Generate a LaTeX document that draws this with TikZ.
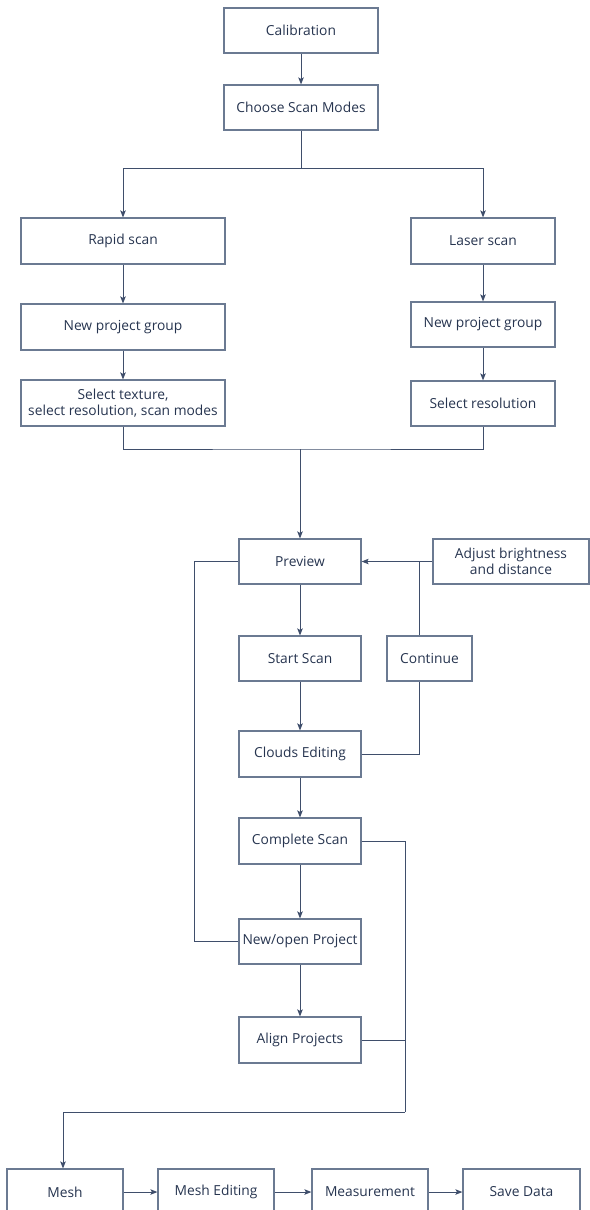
\documentclass[tikz,border=0pt]{standalone}
\usepackage{fontspec}
\setmainfont{Open Sans}
\usetikzlibrary{arrows.meta,calc}
\definecolor{boxc}{HTML}{6B7A92}
\definecolor{txtc}{HTML}{26344F}
\definecolor{linec}{HTML}{3F4E6B}
\tikzset{
  box/.style={draw=boxc, line width=1.2pt, rectangle, inner sep=0pt,
    text=txtc, align=center, font=\fontsize{13.8}{16}\selectfont},
  conn/.style={draw=linec, line width=1pt},
  arr/.style={conn, -{Stealth[length=7pt,width=5.5pt,inset=1.5pt]}}
}
\begin{document}
\begin{tikzpicture}[x=1pt,y=-1pt]
\useasboundingbox (0,0) rectangle (589,1210);
% top
\node[box, minimum width=154pt, minimum height=45pt] (cal) at (301,30.5) {Calibration};
\node[box, minimum width=154pt, minimum height=45pt] (csm) at (301,107.5) {Choose Scan Modes};
% left branch
\node[box, minimum width=204pt, minimum height=46pt] (rapid) at (123,241) {Rapid scan};
\node[box, minimum width=204pt, minimum height=46pt] (npgl) at (123,327) {New project group};
\node[box, minimum width=204pt, minimum height=46pt] (selt) at (123,403) {Select texture,\\select resolution, scan modes};
% right branch
\node[box, minimum width=144pt, minimum height=46pt] (laser) at (483,241) {Laser scan};
\node[box, minimum width=144pt, minimum height=45pt] (npgr) at (483,324.5) {New project group};
\node[box, minimum width=144pt, minimum height=45pt] (selr) at (483,403.5) {Select resolution};
% middle column
\node[box, minimum width=122pt, minimum height=45pt] (preview) at (300,561.5) {Preview};
\node[box, minimum width=156pt, minimum height=45pt] (adjust) at (511,561.5) {Adjust brightness\\and distance};
\node[box, minimum width=122pt, minimum height=45pt] (start) at (300,658.5) {Start Scan};
\node[box, minimum width=85pt, minimum height=45pt] (cont) at (429.5,658.5) {Continue};
\node[box, minimum width=122pt, minimum height=46pt] (clouds) at (300,754) {Clouds Editing};
\node[box, minimum width=122pt, minimum height=46pt] (complete) at (300,841) {Complete Scan};
\node[box, minimum width=122pt, minimum height=45pt] (newopen) at (300,941.5) {New/open Project};
\node[box, minimum width=122pt, minimum height=46pt] (align) at (300,1040) {Align Projects};
% bottom row
\node[box, minimum width=116pt, minimum height=46pt] (mesh) at (65,1192) {Mesh};
\node[box, minimum width=116pt, minimum height=46pt] (medit) at (216,1192) {Mesh Editing};
\node[box, minimum width=116pt, minimum height=46pt] (meas) at (370,1192) {Measurement};
\node[box, minimum width=117pt, minimum height=46pt] (save) at (521.5,1192) {Save Data};
% coordinates
\coordinate (br) at (301,168);
\coordinate (mg) at (300,449);
\coordinate (ct) at ($(cont.north)+(-10.5,0)$);
\coordinate (cb) at ($(cont.south)+(-10.5,0)$);
\coordinate (lp) at (194,561.5);
\coordinate (rj) at (405,841);
\coordinate (rd) at (405,1112);
% connectors
\draw[arr] (cal) -- (csm);
\draw[conn] (csm.south) -- (br);
\draw[arr] (br) -| (rapid.north);
\draw[arr] (br) -| (laser.north);
\draw[arr] (rapid) -- (npgl);
\draw[arr] (npgl) -- (selt);
\draw[arr] (laser) -- (npgr);
\draw[arr] (npgr) -- (selr);
\draw[conn] (selt.south) |- (mg) -| (selr.south);
\draw[arr] (mg) -- (preview.north);
\draw[arr] (adjust.west) -- (preview.east);
\draw[conn] (ct) -- (ct |- adjust.west);
\draw[conn] (clouds.east) -| (cb);
\draw[arr] (preview) -- (start);
\draw[arr] (start) -- (clouds);
\draw[arr] (clouds) -- (complete);
\draw[arr] (complete) -- (newopen);
\draw[arr] (newopen) -- (align);
\draw[conn] (preview.west) -- (lp) |- (newopen.west);
\draw[conn] (complete.east) -- (rj) -- (rd);
\draw[conn] (align.east) -- (align.east -| rj);
\draw[arr] (rd) -| ([xshift=-2pt]mesh.north);
\draw[arr] (mesh) -- (medit);
\draw[arr] (medit) -- (meas);
\draw[arr] (meas) -- (save);
\end{tikzpicture}
\end{document}
